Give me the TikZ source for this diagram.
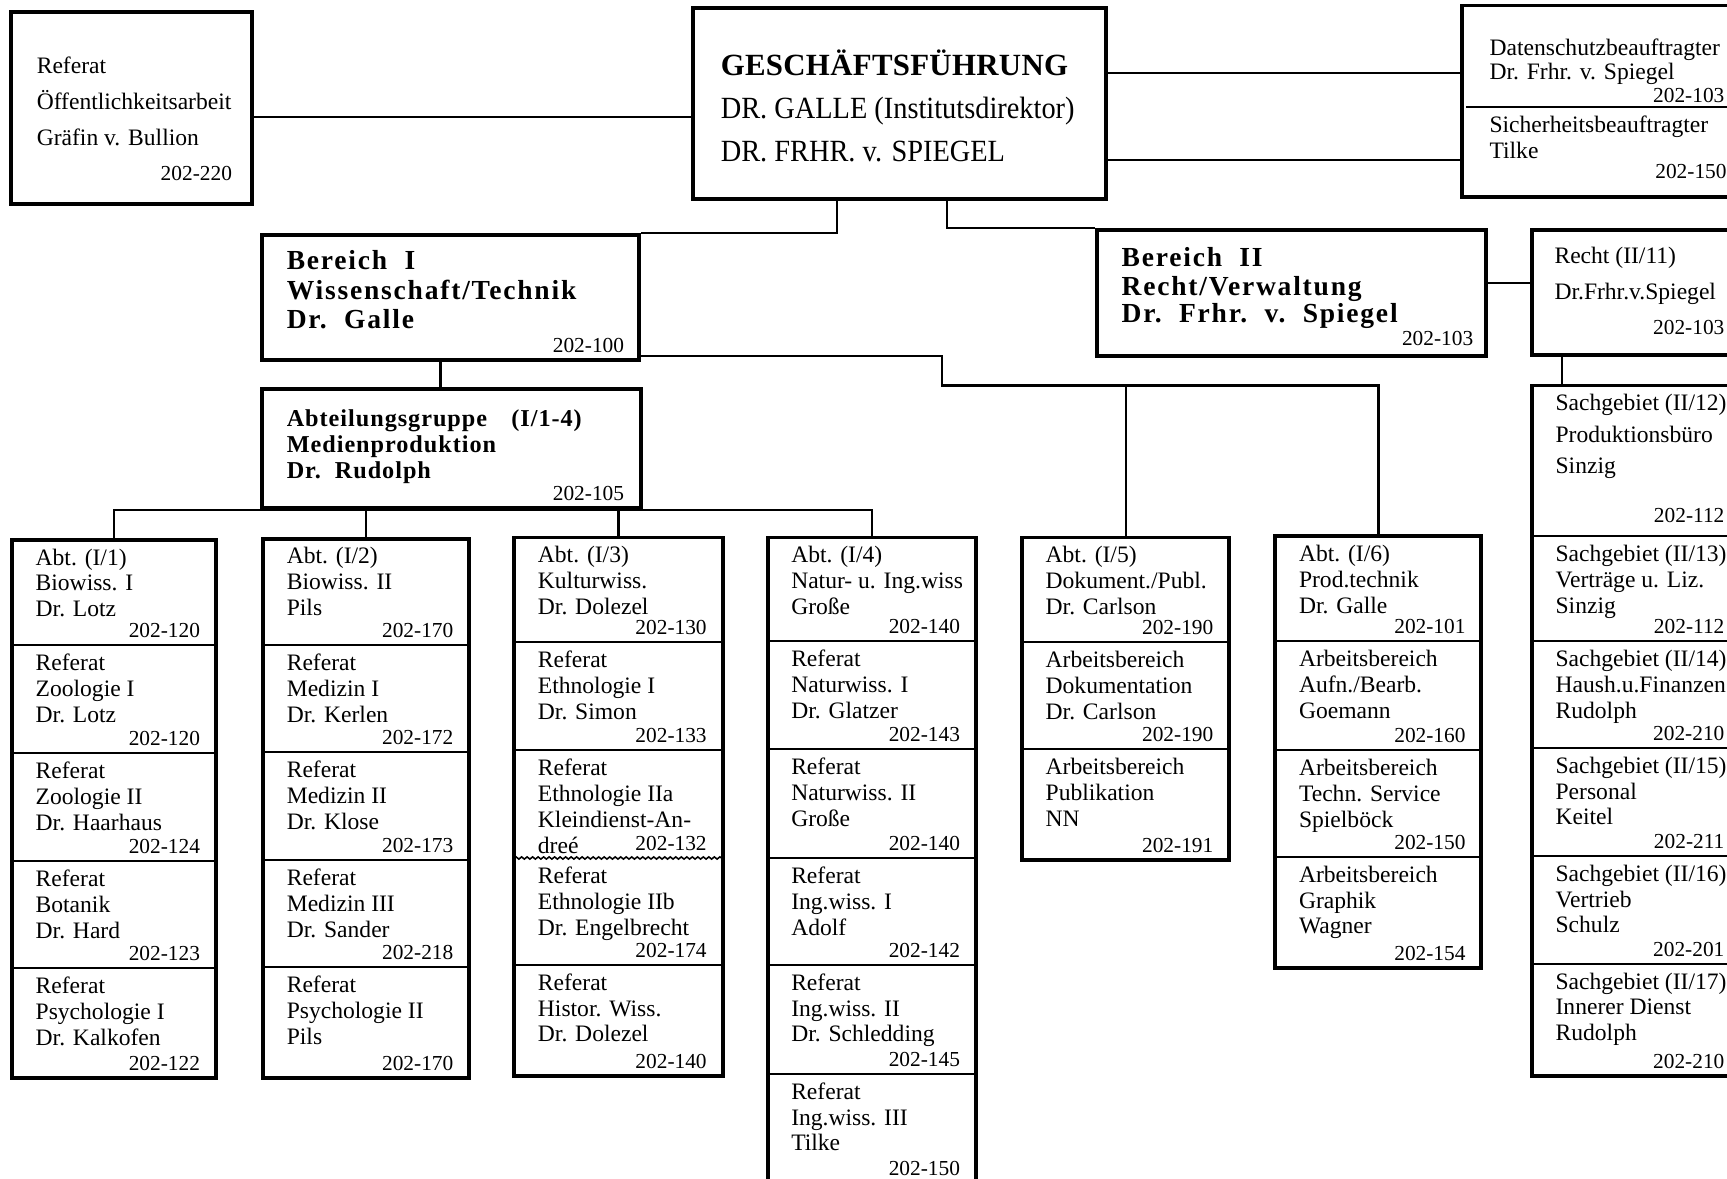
\documentclass[tikz,border=0pt]{standalone}
\usepackage{fontspec}
\setmainfont{Liberation Serif}
\newfontfamily\headserif[LetterSpace=6.5]{Liberation Serif}
\newfontfamily\groupserif[LetterSpace=4]{Liberation Serif}
\newfontfamily\gfserif[LetterSpace=1]{Liberation Serif}
\newfontfamily\gfnarrow[FakeStretch=0.92]{Liberation Serif}
\usetikzlibrary{positioning,fit,decorations.pathmorphing}

\newcommand{\cellfont}{\fontsize{10.7pt}{12pt}\selectfont}
\newcommand{\telfont}{\fontsize{9.7pt}{11pt}\selectfont}
\newcommand{\headfont}{\headserif\bfseries\fontsize{12.5pt}{13pt}\selectfont}
\newcommand{\groupfont}{\groupserif\bfseries\fontsize{11pt}{12pt}\selectfont}
\newcommand{\gftitlefont}{\gfserif\bfseries\fontsize{14pt}{16pt}\selectfont}
\newcommand{\gffont}{\gfnarrow\fontsize{14pt}{16pt}\selectfont}

% framed box from two corners
\newcommand{\orgbox}[5]{%
  \coordinate (#1-a) at (#2,#3);
  \coordinate (#1-b) at (#4,#5);
  \node[unitframe, fit=(#1-a)(#1-b)] (#1) {};
}
% one row of a column: [spacing] name, x1, x2, y1, y2, lines, number
\newcommand{\orgcell}[8][23.5]{%
  \coordinate (#2-a) at (#3,#5);
  \coordinate (#2-b) at (#4,#6);
  \node[cell, fit=(#2-a)(#2-b)] (#2) {};
  \foreach \rowtext [count=\k] in {#7}
    \node[celltext] (#2-\k) at ([shift={(21,{23+#1*(\k-1)})}]#2.north west) {\rowtext};
  \node[telno] (#2-n) at ([shift={(-14,-7)}]#2.south east) {#8};
}

\begin{document}
\begin{tikzpicture}[x=0.5pt, y=-0.5pt,
    link/.style={line width=1pt},
    unitframe/.style={draw, line width=1.8pt, inner sep=0pt},
    cell/.style={inner sep=0pt, outer sep=0pt},
    divider/.style={line width=0.9pt},
    wavy/.style={line width=0.7pt, decorate, decoration={snake, amplitude=0.5pt, segment length=2.5pt}},
    celltext/.style={anchor=base west, inner sep=0pt, font=\cellfont},
    telno/.style={anchor=base east, inner sep=0pt, font=\telfont},
    headtext/.style={anchor=base west, inner sep=0pt, font=\headfont},
    grouptext/.style={anchor=base west, inner sep=0pt, font=\groupfont}]
    \useasboundingbox (0,0) rectangle (1568,1070);
    \clip (0,0) rectangle (1568,1070);
    \fill[white] (0,0) rectangle (1568,1070);

    % top row
    \orgbox{oeff}{10}{11}{229}{185}
    \node[celltext] (oeff-1) at (33,67) {Referat};
    \node[celltext] (oeff-2) at (33,99) {Öffentlichkeitsarbeit};
    \node[celltext] (oeff-3) at (33,132) {Gräfin v. Bullion};
    \node[telno] (oeff-n) at (211,164) {202-220};

    \orgbox{gf}{629}{7}{1004}{181}
    \node[anchor=base west, inner sep=0pt, font=\gftitlefont] (gf-1) at (654,69) {GESCHÄFTSFÜHRUNG};
    \node[anchor=base west, inner sep=0pt, font=\gffont] (gf-2) at (654,108) {DR. GALLE (Institutsdirektor)};
    \node[anchor=base west, inner sep=0pt, font=\gffont] (gf-3) at (654,147) {DR. FRHR. v. SPIEGEL};

    \orgbox{dsb}{1327}{5}{1580}{179}
    \coordinate (dsbcut) at (0,97);
    \draw[divider] ([xshift=3pt]dsb.west |- dsbcut) -- (dsb.east |- dsbcut);
    \node[celltext] (dsb-1) at (1352,50) {Datenschutzbeauftragter};
    \node[celltext] (dsb-2) at (1352,72) {Dr. Frhr. v. Spiegel};
    \node[telno] (dsb-n1) at (1566,93) {202-103};
    \node[celltext] (dsb-3) at (1352,120) {Sicherheitsbeauftragter};
    \node[celltext] (dsb-4) at (1352,144) {Tilke};
    \node[telno] (dsb-n2) at (1568,162) {202-150};

    % Bereiche
    \orgbox{bI}{238}{213}{580}{327}
    \node[headtext] (bI-1) at (260,245) {Bereich~~I};
    \node[headtext] (bI-2) at (260,272) {Wissenschaft/Technik};
    \node[headtext] (bI-3) at (260,298) {Dr.~~Galle};
    \node[telno] (bI-n) at (567,320) {202-100};

    \orgbox{bII}{996}{209}{1349}{323}
    \node[headtext] (bII-1) at (1018,242) {Bereich~~II};
    \node[headtext] (bII-2) at (1018,268) {Recht/Verwaltung};
    \node[headtext] (bII-3) at (1018,293) {Dr.~~Frhr.~~v.~~Spiegel};
    \node[telno] (bII-n) at (1338,314) {202-103};

    \orgbox{recht}{1391}{209}{1580}{322}
    \node[celltext] (recht-1) at (1411,239) {Recht (II/11)};
    \node[celltext] (recht-2) at (1411,272) {Dr.Frhr.v.Spiegel};
    \node[telno] (recht-n) at (1566,304) {202-103};

    \orgbox{grp}{238}{353}{582}{461}
    \node[grouptext] (grp-1) at (260,387) {Abteilungsgruppe\quad(I/1-4)};
    \node[grouptext] (grp-2) at (260,411) {Medienproduktion};
    \node[grouptext] (grp-3) at (260,434) {Dr.~~Rudolph};
    \node[telno] (grp-n) at (567,454) {202-105};

    % Abt. I/1
    \orgcell{a1r1}{11}{196}{490}{586}{Abt. (I/1),Biowiss. I,Dr. Lotz}{202-120}
    \orgcell{a1r2}{11}{196}{586}{684}{Referat,Zoologie I,Dr. Lotz}{202-120}
    \orgcell{a1r3}{11}{196}{684}{782}{Referat,Zoologie II,Dr. Haarhaus}{202-124}
    \orgcell{a1r4}{11}{196}{782}{879}{Referat,Botanik,Dr. Hard}{202-123}
    \orgcell{a1r5}{11}{196}{879}{979}{Referat,Psychologie I,Dr. Kalkofen}{202-122}
    \foreach \r in {1,...,4} \draw[divider] (a1r\r.south west) -- (a1r\r.south east);
    \node[unitframe, fit=(a1r1)(a1r5)] (abt1) {};

    % Abt. I/2
    \orgcell{a2r1}{239}{426}{489}{586}{Abt. (I/2),Biowiss. II,Pils}{202-170}
    \orgcell{a2r2}{239}{426}{586}{683}{Referat,Medizin I,Dr. Kerlen}{202-172}
    \orgcell{a2r3}{239}{426}{683}{781}{Referat,Medizin II,Dr. Klose}{202-173}
    \orgcell{a2r4}{239}{426}{781}{878}{Referat,Medizin III,Dr. Sander}{202-218}
    \orgcell{a2r5}{239}{426}{878}{979}{Referat,Psychologie II,Pils}{202-170}
    \foreach \r in {1,...,4} \draw[divider] (a2r\r.south west) -- (a2r\r.south east);
    \node[unitframe, fit=(a2r1)(a2r5)] (abt2) {};

    % Abt. I/3
    \orgcell{a3r1}{467}{656}{488}{583}{Abt. (I/3),Kulturwiss.,Dr. Dolezel}{202-130}
    \orgcell{a3r2}{467}{656}{583}{681}{Referat,Ethnologie I,Dr. Simon}{202-133}
    \orgcell{a3r3}{467}{656}{681}{779}{Referat,Ethnologie IIa,Kleindienst-An-,dreé}{202-132}
    \orgcell{a3r4}{467}{656}{779}{876}{Referat,Ethnologie IIb,Dr. Engelbrecht}{202-174}
    \orgcell{a3r5}{467}{656}{876}{977}{Referat,Histor. Wiss.,Dr. Dolezel}{202-140}
    \foreach \r in {1,2,4} \draw[divider] (a3r\r.south west) -- (a3r\r.south east);
    \draw[wavy] (a3r3.south west) -- (a3r3.south east);
    \node[unitframe, fit=(a3r1)(a3r5)] (abt3) {};

    % Abt. I/4
    \orgcell{a4r1}{697}{886}{488}{582}{Abt. (I/4),Natur- u. Ing.wiss,Große}{202-140}
    \orgcell{a4r2}{697}{886}{582}{680}{Referat,Naturwiss. I,Dr. Glatzer}{202-143}
    \orgcell{a4r3}{697}{886}{680}{779}{Referat,Naturwiss. II,Große}{202-140}
    \orgcell{a4r4}{697}{886}{779}{876}{Referat,Ing.wiss. I,Adolf}{202-142}
    \orgcell{a4r5}{697}{886}{876}{975}{Referat,Ing.wiss. II,Dr. Schledding}{202-145}
    \orgcell{a4r6}{697}{886}{975}{1074}{Referat,Ing.wiss. III,Tilke}{202-150}
    \foreach \r in {1,...,5} \draw[divider] (a4r\r.south west) -- (a4r\r.south east);
    \node[unitframe, fit=(a4r1)(a4r6)] (abt4) {};

    % Abt. I/5
    \orgcell{a5r1}{928}{1116}{488}{583}{Abt. (I/5),Dokument./Publ.,Dr. Carlson}{202-190}
    \orgcell{a5r2}{928}{1116}{583}{680}{Arbeitsbereich,Dokumentation,Dr. Carlson}{202-190}
    \orgcell{a5r3}{928}{1116}{680}{781}{Arbeitsbereich,Publikation,NN}{202-191}
    \foreach \r in {1,2} \draw[divider] (a5r\r.south west) -- (a5r\r.south east);
    \node[unitframe, fit=(a5r1)(a5r3)] (abt5) {};

    % Abt. I/6
    \orgcell{a6r1}{1158}{1345}{487}{582}{Abt. (I/6),Prod.technik,Dr. Galle}{202-101}
    \orgcell{a6r2}{1158}{1345}{582}{681}{Arbeitsbereich,Aufn./Bearb.,Goemann}{202-160}
    \orgcell{a6r3}{1158}{1345}{681}{778}{Arbeitsbereich,Techn. Service,Spielböck}{202-150}
    \orgcell{a6r4}{1158}{1345}{778}{879}{Arbeitsbereich,Graphik,Wagner}{202-154}
    \foreach \r in {1,...,3} \draw[divider] (a6r\r.south west) -- (a6r\r.south east);
    \node[unitframe, fit=(a6r1)(a6r4)] (abt6) {};

    % Sachgebiete II/12-17
    \orgcell[28.5]{s1}{1391}{1580}{350}{487}{Sachgebiet (II/12),Produktionsbüro,Sinzig}{}
    \node[telno] (s1-tel) at (1566,474) {202-112};
    \orgcell{s2}{1391}{1580}{487}{582}{Sachgebiet (II/13),Verträge u. Liz.,Sinzig}{202-112}
    \orgcell{s3}{1391}{1580}{582}{679}{Sachgebiet (II/14),Haush.u.Finanzen,Rudolph}{202-210}
    \orgcell{s4}{1391}{1580}{679}{777}{Sachgebiet (II/15),Personal,Keitel}{202-211}
    \orgcell{s5}{1391}{1580}{777}{875}{Sachgebiet (II/16),Vertrieb,Schulz}{202-201}
    \orgcell{s6}{1391}{1580}{875}{977}{Sachgebiet (II/17),Innerer Dienst,Rudolph}{202-210}
    \foreach \r in {1,...,5} \draw[divider] (s\r.south west) -- (s\r.south east);
    \node[unitframe, fit=(s1)(s6)] (sach) {};

    % connectors
    \coordinate (y106) at (0,106);
    \coordinate (y66) at (0,66);
    \coordinate (y145) at (0,145);
    \coordinate (y257) at (0,257);
    \coordinate (y323) at (0,323);
    \coordinate (x760) at (760,0);
    \coordinate (x860) at (860,0);
    \coordinate (x400) at (400,0);
    \coordinate (x1418) at (1418,0);
    \coordinate (knee) at (855,350);
    \draw[link] (oeff.east |- y106) -- (gf.west |- y106);
    \draw[link] (gf.east |- y66) -- (dsb.west |- y66);
    \draw[link] (gf.east |- y145) -- (dsb.west |- y145);
    \draw[link] (gf.south -| x760) |- (bI.north east);
    \draw[link] (gf.south -| x860) |- (bII.north west);
    \draw[link] (bII.east |- y257) -- (recht.west |- y257);
    \draw[link] (recht.south -| x1418) -- (sach.north -| x1418);
    \draw[link] (bI.south -| x400) -- (grp.north -| x400);
    \draw[link] (bI.east |- y323) -| (knee) -| (abt6.north);
    \draw[link] (knee -| abt5.north) -- (abt5.north);
    \draw[link] (abt1.north) -- (abt1.north |- grp.south) -- (abt4.north |- grp.south) -- (abt4.north);
    \draw[link] (abt2.north) -- (abt2.north |- grp.south);
    \draw[link] (abt3.north) -- (abt3.north |- grp.south);
\end{tikzpicture}
\end{document}
